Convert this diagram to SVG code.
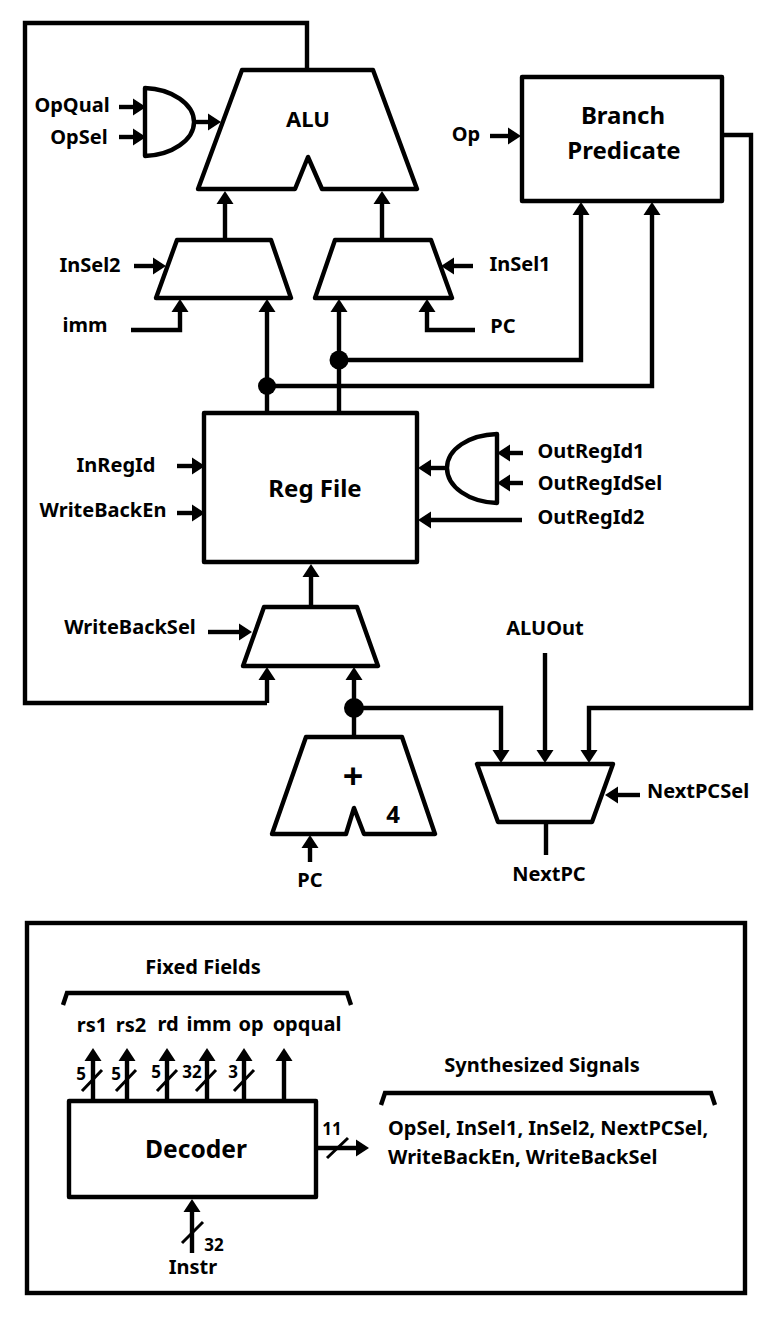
<svg xmlns="http://www.w3.org/2000/svg" width="774" height="1326" viewBox="0 0 774 1326">
<style>
text{font-family:"Noto Sans","Open Sans","Liberation Sans",sans-serif;font-weight:700;fill:#000;text-anchor:middle;font-size:20px}
.big{font-size:24px}.s{font-size:17px}
.n{fill:#fff;stroke:#000;stroke-width:4.4;stroke-linejoin:round}
.c{fill:none;stroke:#000;stroke-width:4.4}
.a{marker-end:url(#h)}
.t{stroke-width:3}
</style>
<defs><marker id="h" markerUnits="userSpaceOnUse" markerWidth="14" markerHeight="18" viewBox="0 0 13 18" refX="1" refY="9" orient="auto"><path d="M0 .5L13 9L0 17.5z"/></marker></defs>
<rect width="774" height="1326" fill="#fff"/>
<g id="connectors">
<path class="c" d="M307 70V23H25V703H267"/>
<path class="c a" d="M119 107H134"/><path class="c a" d="M119 137H134"/><path class="c a" d="M195 122H209"/>
<path class="c a" d="M225 238V203"/><path class="c a" d="M382 238V203"/>
<path class="c a" d="M134 266H154"/><path class="c a" d="M131 330H180V311"/>
<path class="c a" d="M267 413V311"/><path class="c a" d="M339 413V311"/>
<path class="c a" d="M475 330H427V311"/><path class="c a" d="M473 266H453"/>
<path class="c a" d="M267 386H652V214"/><path class="c a" d="M339 360H581V214"/>
<path class="c a" d="M490 136H509"/>
<path class="c a" d="M177 466H193"/><path class="c a" d="M177 513H193"/>
<path class="c a" d="M523 453H509"/><path class="c a" d="M523 483H509"/><path class="c a" d="M447 468H430"/><path class="c a" d="M522 520H430"/>
<path class="c a" d="M311 606V576"/>
<path class="c a" d="M208 632H240"/>
<path class="c a" d="M354 737V679"/>
<path class="c a" d="M267 703V679"/>
<path class="c a" d="M354 708H501V751"/><path class="c a" d="M545 653V751"/><path class="c a" d="M722 135H751V708H589V751"/>
<path class="c a" d="M640 795H617"/><path class="c" d="M546 822V855"/>
<path class="c a" d="M310 862V847"/>
<circle cx="267" cy="386" r="9"/><circle cx="339" cy="360" r="9.5"/><circle cx="354" cy="708" r="10"/>
<path class="c a" d="M93 1101V1060"/><path class="c a" d="M127 1101V1060"/><path class="c a" d="M167 1101V1060"/><path class="c a" d="M207 1101V1060"/><path class="c a" d="M244 1101V1060"/><path class="c a" d="M284 1101V1060"/>
<path class="c a" d="M316 1148H357"/><path class="c a" d="M192 1253V1211"/>
<path class="c t" d="M82 1091L102 1070M116 1091L136 1070M157 1091L177 1070M196 1091L216 1070M234 1091L254 1070M327 1158L348 1138M182 1243L203 1222"/>
<path class="c" d="M63 1005L67 993H347L351 1005M381 1105L385 1093H711L715 1105"/>
</g>
<g id="alu"><path class="n" d="M242 70H373L417 189H322L308 157L295 189H198z"/><text x="308" y="127" style="font-size:22px">ALU</text></g>
<g id="opgate"><path class="n" d="M145 88C172 89 194 104 194 122C194 140 172 155 145 156z"/></g>
<g id="branch"><rect class="n" x="522" y="77" width="200" height="124"/><text x="623" y="124" class="big">Branch</text><text x="624" y="159" class="big">Predicate</text></g>
<g id="mux2"><path class="n" d="M177 240H271L291 298H156z"/></g>
<g id="mux1"><path class="n" d="M335 240H431L452 298H315z"/></g>
<g id="regfile"><rect class="n" x="204" y="413" width="213" height="149"/><text x="315" y="497" class="big">Reg File</text></g>
<g id="outgate"><path class="n" d="M497 434C469 435 447 449 447 468C447 487 469 502 497 503z"/></g>
<g id="muxwb"><path class="n" d="M264 607H357L378 666H243z"/></g>
<g id="adder"><path class="n" d="M306 737H402L435 834H364L354 808L346 834H272z"/><text x="353" y="789" style="font-size:36px">+</text><text x="393" y="823" class="big">4</text></g>
<g id="muxpc"><path class="n" d="M477 764H613L592 822H498z"/></g>
<g id="decoder"><rect class="n" x="69" y="1101" width="247" height="96"/><text x="196" y="1158" style="font-size:24.6px">Decoder</text></g>
<g id="frame"><rect x="27" y="923" width="718" height="370" fill="none" stroke="#000" stroke-width="4.4"/></g>
<g id="labels">
<text x="72" y="112">OpQual</text><text x="79" y="144">OpSel</text><text x="90" y="272">InSel2</text><text x="85" y="332">imm</text>
<text x="520" y="271">InSel1</text><text x="503" y="333">PC</text><text x="466" y="141">Op</text>
<text x="116" y="472">InRegId</text><text x="103" y="517">WriteBackEn</text>
<text x="591" y="458">OutRegId1</text><text x="600" y="490">OutRegIdSel</text><text x="591" y="524">OutRegId2</text>
<text x="130" y="634">WriteBackSel</text><text x="545" y="635">ALUOut</text><text x="698" y="798">NextPCSel</text><text x="549" y="881">NextPC</text><text x="310" y="887">PC</text>
<text x="203" y="974">Fixed Fields</text>
<text x="92" y="1032">rs1</text><text x="131" y="1032">rs2</text><text x="168" y="1031">rd</text><text x="209" y="1031">imm</text><text x="251" y="1031">op</text><text x="307" y="1031">opqual</text>
<text x="542" y="1072">Synthesized Signals</text>
<text x="388" y="1135" style="text-anchor:start">OpSel, InSel1, InSel2, NextPCSel,</text>
<text x="388" y="1164" style="text-anchor:start">WriteBackEn, WriteBackSel</text>
<text x="193" y="1274">Instr</text>
<g class="num"><text x="81" y="1080" class="s">5</text><text x="116" y="1080" class="s">5</text><text x="156" y="1078" class="s">5</text><text x="192" y="1078" class="s">32</text><text x="233" y="1078" class="s">3</text><text x="332" y="1135" class="s">11</text><text x="214" y="1251" class="s">32</text></g>
</g>
</svg>
